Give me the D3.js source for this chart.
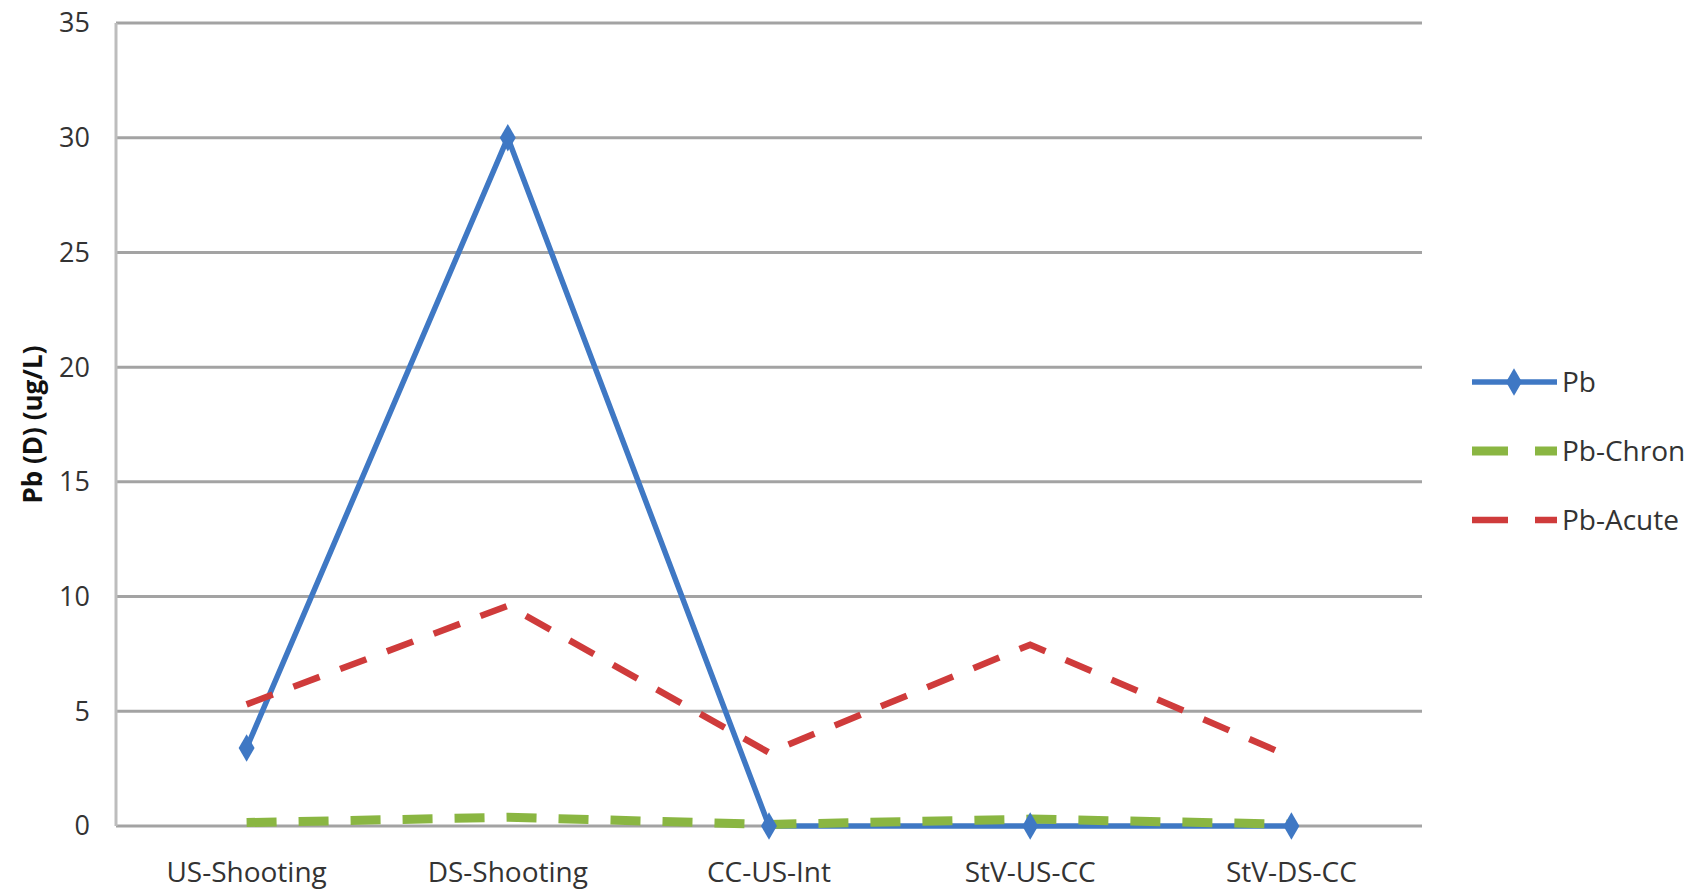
<!DOCTYPE html>
<html>
<head>
<meta charset="utf-8">
<script src="https://cdn.jsdelivr.net/npm/d3@7"></script>
<style>
  body { margin: 0; background: #fff; }
  svg text { font-family: "Open Sans", sans-serif; fill: #333; }
</style>
</head>
<body>
<div id="chart"></div>
<script>
const sites = ["US-Shooting", "DS-Shooting", "CC-US-Int", "StV-US-CC", "StV-DS-CC"];
const pb      = [3.4, 30, 0, 0, 0];
const pbChron = [0.15, 0.38, 0.07, 0.3, 0.08];
const pbAcute = [5.3, 9.6, 3.2, 7.9, 3.0];
const yTicks  = [0, 5, 10, 15, 20, 25, 30, 35];

const width = 1690, height = 890;
const margin = {top: 23, right: 268, bottom: 64, left: 116};

const svg = d3.select("#chart").append("svg")
  .attr("width", width)
  .attr("height", height);

const x = d3.scaleBand()
  .domain(sites)
  .range([margin.left, width - margin.right]);

const y = d3.scaleLinear()
  .domain([0, 35])
  .range([height - margin.bottom, margin.top]);

// gridlines
svg.append("g")
  .selectAll("line")
  .data(yTicks)
  .join("line")
    .attr("x1", margin.left)
    .attr("x2", width - margin.right)
    .attr("y1", d => y(d))
    .attr("y2", d => y(d))
    .attr("stroke", "#a3a3a3")
    .attr("stroke-width", 3);

// left axis line
svg.append("line")
  .attr("x1", margin.left).attr("x2", margin.left)
  .attr("y1", y(35)).attr("y2", y(0))
  .attr("stroke", "#bdbdbd")
  .attr("stroke-width", 3);

// y tick labels
svg.append("g")
  .selectAll("text")
  .data(yTicks)
  .join("text")
    .attr("x", margin.left - 26)
    .attr("y", d => y(d))
    .attr("dy", "0.35em")
    .attr("text-anchor", "end")
    .attr("font-size", 27)
    .text(d => d);

// x labels
svg.append("g")
  .selectAll("text")
  .data(sites)
  .join("text")
    .attr("x", d => x(d) + x.bandwidth() / 2)
    .attr("y", height - 8)
    .attr("text-anchor", "middle")
    .attr("font-size", 28)
    .text(d => d);

// y title
svg.append("text")
  .attr("transform", `translate(42,${(y(0) + y(35)) / 2}) rotate(-90)`)
  .attr("text-anchor", "middle")
  .attr("font-size", 26)
  .attr("font-weight", "bold")
  .style("fill", "#111")
  .text("Pb (D) (ug/L)");

const cx = d => x(d) + x.bandwidth() / 2;

const series = [
  {name: "Pb-Chron", values: pbChron, color: "#8ab642", width: 9, dash: "30,22"},
  {name: "Pb-Acute", values: pbAcute, color: "#cf3b3b", width: 6.5, dash: "28,22"},
  {name: "Pb", values: pb, color: "#3f78c4", width: 5.5, dash: null}
];

const line = d3.line()
  .x((d, i) => cx(sites[i]))
  .y(d => y(d));

// Pb first, so the green dashes sit on top of it along zero
[series[2], series[0], series[1]].forEach(s => {
  svg.append("path")
    .datum(s.values)
    .attr("fill", "none")
    .attr("stroke", s.color)
    .attr("stroke-width", s.width)
    .attr("stroke-dasharray", s.dash)
    .attr("d", line);
});

const diamond = d3.symbol().type(d3.symbolDiamond).size(220);

svg.append("g")
  .selectAll("path")
  .data(pb)
  .join("path")
    .attr("transform", (d, i) => `translate(${cx(sites[i])},${y(d)})`)
    .attr("d", diamond)
    .attr("fill", "#3f78c4");

// legend
const legend = svg.append("g")
  .selectAll("g")
  .data([series[2], series[0], series[1]])
  .join("g")
    .attr("transform", (d, i) => `translate(1472,${382 + i * 69})`);

legend.append("line")
  .attr("x1", 0).attr("x2", 85)
  .attr("stroke", d => d.color)
  .attr("stroke-width", d => d.width)
  .attr("stroke-dasharray", d => d.dash ? "36,27" : null);

legend.filter(d => d.name === "Pb")
  .append("path")
    .attr("transform", "translate(42,0)")
    .attr("d", diamond)
    .attr("fill", "#3f78c4");

legend.append("text")
  .attr("x", 90)
  .attr("dy", "0.35em")
  .attr("font-size", 28)
  .text(d => d.name);
</script>
</body>
</html>
